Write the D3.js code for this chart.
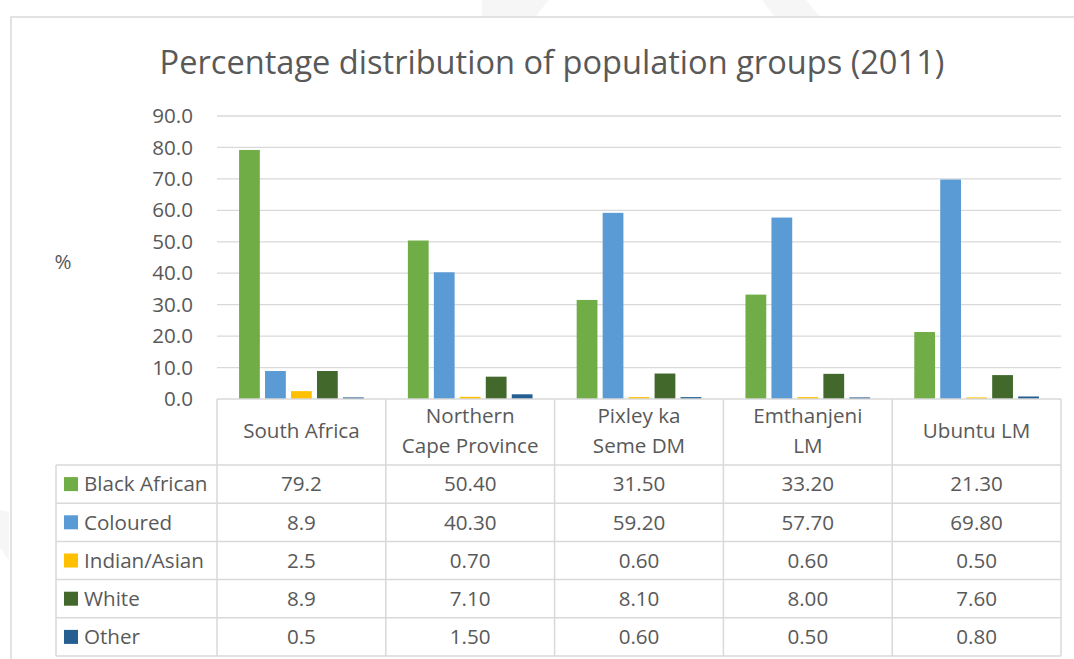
<!DOCTYPE html>
<html>
<head>
<meta charset="utf-8">
<script src="https://cdn.jsdelivr.net/npm/d3@7"></script>
<style>
  body { margin: 0; background: #fff; }
  svg { display: block; }
</style>
</head>
<body>
<div id="chart"></div>
<script>
// Categories shown as table columns (header text split as in the picture)
var categories = ['South Africa', 'Northern Cape Province', 'Pixley ka Seme DM', 'Emthanjeni LM', 'Ubuntu LM'];
var categoryLines = [['South Africa'], ['Northern', 'Cape Province'], ['Pixley ka', 'Seme DM'], ['Emthanjeni', 'LM'], ['Ubuntu LM']];
// Population groups (series)
var groups = ['Black African', 'Coloured', 'Indian/Asian', 'White', 'Other'];
var blackAfrican = [79.2, 50.40, 31.50, 33.20, 21.30];
var coloured = [8.9, 40.30, 59.20, 57.70, 69.80];
var indianAsian = [2.5, 0.70, 0.60, 0.60, 0.50];
var white = [8.9, 7.10, 8.10, 8.00, 7.60];
var other = [0.5, 1.50, 0.60, 0.50, 0.80];
// number of decimals printed in the data table per column
var decimals = [1, 2, 2, 2, 2];
var yTicks = [0, 10, 20, 30, 40, 50, 60, 70, 80, 90];

var series = [blackAfrican, coloured, indianAsian, white, other];
var colors = ['#70ad47', '#5b9bd5', '#ffc000', '#43682b', '#255e91'];

var W = 1074, H = 659;
var textColor = '#595959', lineColor = '#d9d9d9';
var font = "'Open Sans', sans-serif";
var fontSize = '20.6px';

var svg = d3.select('#chart').append('svg')
  .attr('width', W)
  .attr('height', H);

// faint watermark shapes from the page behind the chart
svg.append('g').attr('fill', '#f6f6f6')
  .selectAll('polygon')
  .data([
    '482,0 549,0 535,17 482,17',
    '762,0 806,0 820,17 775,17',
    '0,510 9,512 9,560 0,548'
  ])
  .enter().append('polygon')
  .attr('points', function(d) { return d; });

// chart frame
svg.append('rect')
  .attr('x', 11).attr('y', 17)
  .attr('width', W + 20).attr('height', H)
  .attr('fill', 'none')
  .attr('stroke', lineColor)
  .attr('stroke-width', 1.5);

// scales
var plotLeft = 217, plotRight = 1061;
var x0 = d3.scaleBand().domain(categories).range([plotLeft, plotRight]);
var x1 = d3.scaleBand().domain(groups).range([0, x0.bandwidth()])
  .paddingInner(0.2).paddingOuter(0.85);
var y = d3.scaleLinear().domain([0, 90]).range([399, 116]);

// gridlines
svg.append('g')
  .selectAll('line')
  .data(yTicks.filter(function(d) { return d > 0; }))
  .enter().append('line')
  .attr('x1', plotLeft).attr('x2', plotRight)
  .attr('y1', function(d) { return y(d); })
  .attr('y2', function(d) { return y(d); })
  .attr('stroke', lineColor)
  .attr('stroke-width', 1.3);

// y axis labels
var yAxis = d3.axisLeft(y).tickValues(yTicks).tickFormat(d3.format('.1f')).tickSize(0).tickPadding(0);
var yg = svg.append('g').attr('transform', 'translate(193,0)').call(yAxis);
yg.select('.domain').remove();
yg.selectAll('text')
  .attr('fill', textColor)
  .style('font-family', font)
  .style('font-size', fontSize);

svg.append('text')
  .attr('x', 63).attr('y', 262)
  .attr('dy', '0.35em')
  .attr('text-anchor', 'middle')
  .attr('fill', textColor)
  .style('font-family', font)
  .style('font-size', fontSize)
  .text('%');

// bars
var barData = [];
categories.forEach(function(c, i) {
  groups.forEach(function(g, j) {
    barData.push({ cat: c, group: g, value: series[j][i], color: colors[j] });
  });
});
svg.append('g')
  .selectAll('rect')
  .data(barData)
  .enter().append('rect')
  .attr('x', function(d) { return x0(d.cat) + x1(d.group); })
  .attr('width', x1.bandwidth())
  .attr('y', function(d) { return y(d.value); })
  .attr('height', function(d) { return y(0) - y(d.value); })
  .attr('fill', function(d) { return d.color; });

// data table
var headerTop = 399, headerBottom = 465, rowH = 38.2;
var tableLeft = 56;
var rows = groups.map(function(g, j) { return headerBottom + j * rowH; });
var tableBottom = headerBottom + groups.length * rowH;
var table = svg.append('g')
  .attr('stroke', lineColor)
  .attr('stroke-width', 1.5);

table.append('line')
  .attr('x1', plotLeft).attr('x2', plotRight)
  .attr('y1', headerTop).attr('y2', headerTop);
table.selectAll('.hline')
  .data(rows.concat([tableBottom]))
  .enter().append('line')
  .attr('x1', tableLeft).attr('x2', plotRight)
  .attr('y1', function(d) { return d; })
  .attr('y2', function(d) { return d; });
table.selectAll('.vline')
  .data(categories)
  .enter().append('line')
  .attr('x1', function(d) { return x0(d); })
  .attr('x2', function(d) { return x0(d); })
  .attr('y1', headerTop).attr('y2', tableBottom);
table.append('line')
  .attr('x1', plotRight).attr('x2', plotRight)
  .attr('y1', headerTop).attr('y2', tableBottom);
table.append('line')
  .attr('x1', tableLeft).attr('x2', tableLeft)
  .attr('y1', headerBottom).attr('y2', tableBottom);

// column headers
var headerMid = (headerTop + headerBottom) / 2 - 1;
categories.forEach(function(c, i) {
  var lines = categoryLines[i];
  lines.forEach(function(l, k) {
    svg.append('text')
      .attr('x', x0(c) + x0.bandwidth() / 2)
      .attr('y', headerMid + (k - (lines.length - 1) / 2) * 30)
      .attr('dy', '0.35em')
      .attr('text-anchor', 'middle')
      .attr('fill', textColor)
      .style('font-family', font)
      .style('font-size', fontSize)
      .text(l);
  });
});

// legend keys and values
groups.forEach(function(g, j) {
  var cy = rows[j] + rowH / 2;
  svg.append('rect')
    .attr('x', 64).attr('y', cy - 7)
    .attr('width', 14).attr('height', 14)
    .attr('fill', colors[j]);
  svg.append('text')
    .attr('x', 84).attr('y', cy)
    .attr('dy', '0.35em')
    .attr('fill', textColor)
    .style('font-family', font)
    .style('font-size', fontSize)
    .text(g);
  categories.forEach(function(c, i) {
    svg.append('text')
      .attr('x', x0(c) + x0.bandwidth() / 2)
      .attr('y', cy)
      .attr('dy', '0.35em')
      .attr('text-anchor', 'middle')
      .attr('fill', textColor)
      .style('font-family', font)
      .style('font-size', fontSize)
      .text(series[j][i].toFixed(decimals[i]));
  });
});

// title
svg.append('text')
  .attr('x', 552).attr('y', 74)
  .attr('text-anchor', 'middle')
  .attr('fill', textColor)
  .style('font-family', font)
  .style('font-size', '32.6px')
  .text('Percentage distribution of population groups (2011)');
</script>
</body>
</html>
